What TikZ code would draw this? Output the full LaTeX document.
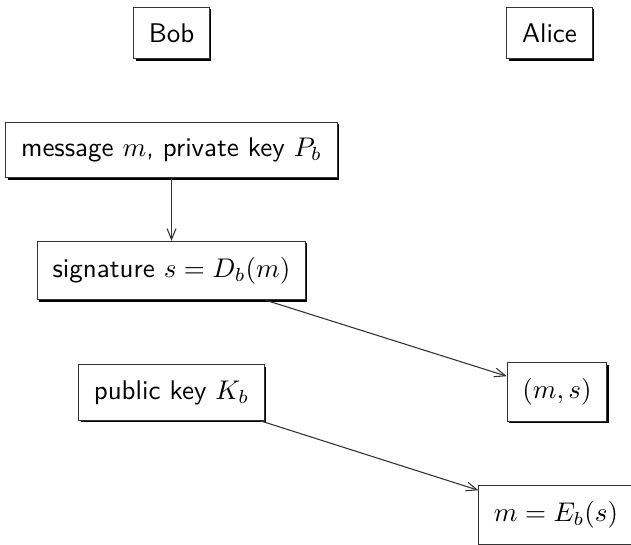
\documentclass[tikz,border=0pt]{standalone}
\usetikzlibrary{shadows,arrows.meta}
\begin{document}
\begin{tikzpicture}[x=0.3704pt,y=-0.3704pt,
  party/.style={draw=black!80, line width=0.4pt, fill=white,
    inner xsep=5.6pt, inner ysep=5.8pt, minimum height=19.2pt,
    font=\sffamily,
    drop shadow={shadow xshift=0.7pt, shadow yshift=-0.7pt, fill=black, opacity=1}},
  flow/.style={-{Straight Barb[length=4pt,width=3.3pt]}, draw=black!80, line width=0.4pt}]
\useasboundingbox (0,0) rectangle (631,544);
% column headers
\node[party] (bob)   at (171.5,33)  {Bob};
\node[party] (alice) at (549.5,33)  {Alice};
% Bob's side
\node[party] (msg) at (171.5,150)   {message $m$, private key $P_b$};
\node[party] (sig) at (171.5,270.5) {signature $s=D_b(m)$};
\node[party] (pub) at (171.5,392.5) {public key $K_b$};
% Alice's side
\node[party] (pair) at (557,392)    {$(m,s)$};
\node[party] (ver)  at (556,515)    {$m=E_b(s)$};
% connectors
\draw[flow] (msg) -- (sig);
\draw[flow] (sig) -- (pair);
\draw[flow] (pub) -- (ver);
\end{tikzpicture}
\end{document}
